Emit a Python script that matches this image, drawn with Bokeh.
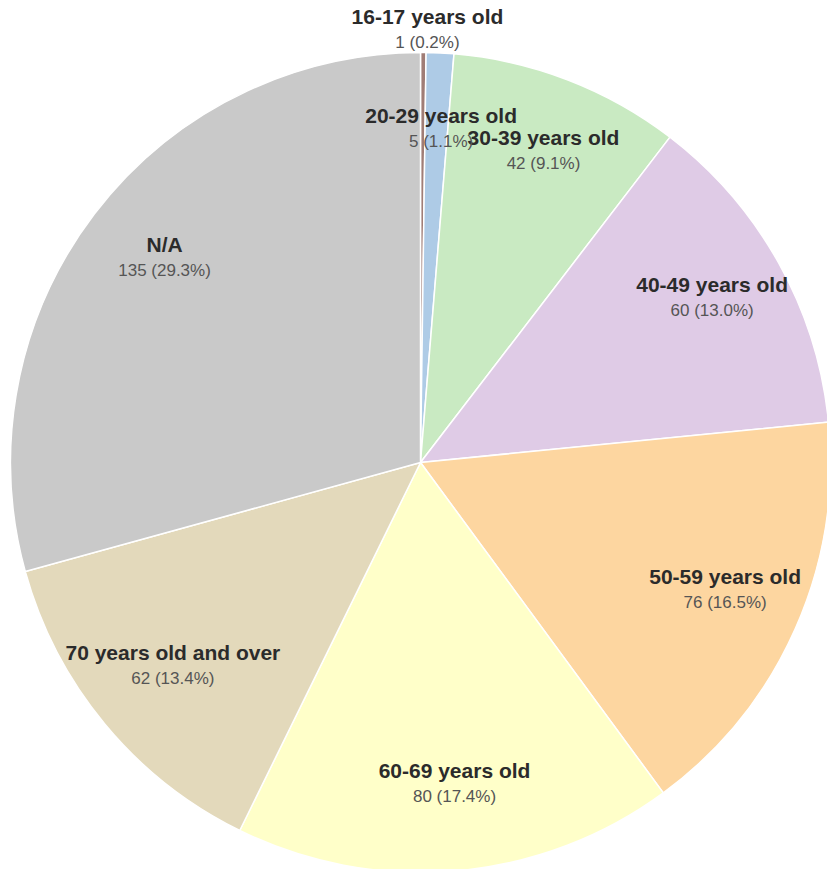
import math
from bokeh.plotting import figure
from bokeh.models import Range1d, ColumnDataSource
from bokeh.core.properties import value
from bokeh.embed import file_html
from bokeh.resources import INLINE

categories = ["16-17 years old", "20-29 years old", "30-39 years old", "40-49 years old",
              "50-59 years old", "60-69 years old", "70 years old and over", "N/A"]
counts = [1, 5, 42, 60, 76, 80, 62, 135]
colors = ["#a07d76", "#aecbe6", "#c9eac2", "#dfcbe6", "#fdd6a0", "#ffffc9", "#e3d9bb", "#c9c9c9"]

W, H = 827, 869
cx, cy, R = 420.0, H - 462.0, 410.0
LDX, LDY = 5.0, 6.0   # small global shift of label blocks

total = sum(counts)
starts, ends, lx, ly, names, vals = [], [], [], [], [], []
cum = 0.0
for c, n in zip(counts, categories):
    f0 = cum / total
    cum += c
    f1 = cum / total
    a0 = math.pi / 2 - 2 * math.pi * f0
    a1 = math.pi / 2 - 2 * math.pi * f1
    starts.append(a0)
    ends.append(a1)
    am = (a0 + a1) / 2
    frac = c / total
    outside = frac < 0.005
    rr = R * (1.06 if outside else 0.80)
    lx.append(cx + rr * math.cos(am) + (4 if outside else LDX))
    ly.append(cy + rr * math.sin(am) + (-2 if outside else LDY))
    names.append(n)
    vals.append(f"{c} ({100 * frac:.1f}%)")

src = ColumnDataSource(dict(start=starts, end=ends, color=colors, x=lx, y=ly, name=names, val=vals))

p = figure(width=W, height=H, output_backend="svg", toolbar_location=None,
           x_range=Range1d(0, W), y_range=Range1d(0, H), min_border=0)
p.axis.visible = False
p.grid.visible = False
p.outline_line_color = None
p.background_fill_color = "white"
p.border_fill_color = "white"

p.wedge(x=cx, y=cy, radius=R, start_angle="start", end_angle="end", direction="clock",
        fill_color="color", line_color="white", line_width=1.5, source=src)

p.text(x="x", y="y", text="name", source=src, text_align="center", text_baseline="middle",
       y_offset=-13, text_font=value("Liberation Sans"), text_font_style="bold",
       text_font_size="21px", text_color="#2b2b2b")
p.text(x="x", y="y", text="val", source=src, text_align="center", text_baseline="middle",
       y_offset=13, text_font=value("Liberation Sans"), text_font_size="17px",
       text_color="#555555")

open("out.html", "w").write(file_html(p, INLINE))
